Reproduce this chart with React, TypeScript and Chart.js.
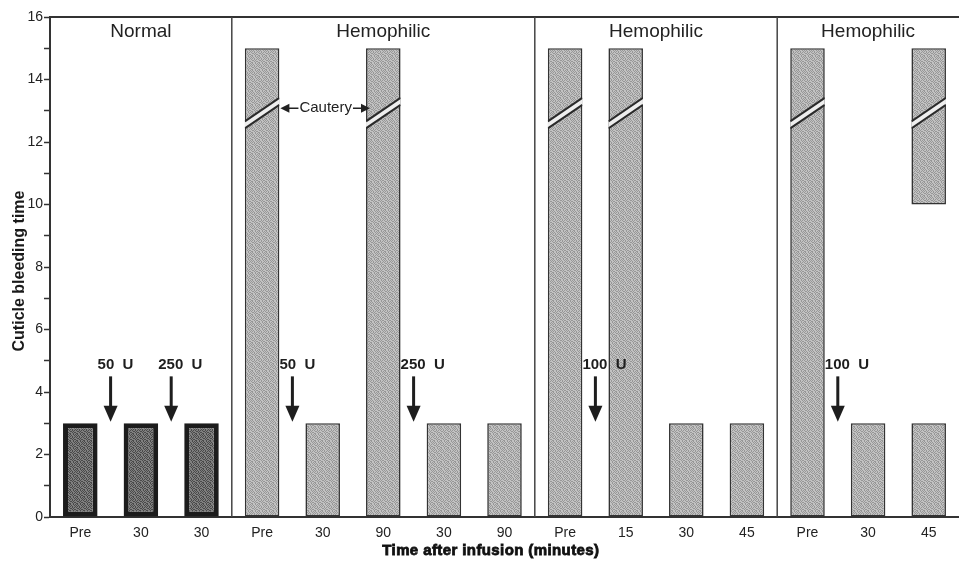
import React, { useEffect, useRef } from 'react';
import { Chart, registerables } from 'chart.js';

Chart.register(...registerables);

// ---- data ----
const categories = ['Pre', '30', '30', 'Pre', '30', '90', '30', '90', 'Pre', '15', '30', '45', 'Pre', '30', '45'];
const bleedingTime = [3, 3, 3, 15, 3, 15, 3, 3, 15, 15, 3, 3, 15, 3, 3];
const upperSegment: (number[] | null)[] = [null, null, null, null, null, null, null, null, null, null, null, null, null, null, [10, 15]];
const groupNames = ['Normal', 'Hemophilic', 'Hemophilic', 'Hemophilic'];
const groupSizes = [3, 5, 4, 3];
const normalCount = 3;
const doseLabels = ['50  U', '250  U', '50  U', '250  U', '100  U', '100  U'];
const doseAfterIndex = [0, 1, 3, 5, 8, 12];
const cauteredValue = 15;
const cauteryLabel = 'Cautery';
const cauteryLabelBars = [3, 5];
const yTitle = 'Cuticle bleeding time';
const xTitle = 'Time after infusion (minutes)';

const FAMILY = '"Liberation Sans", Arial, Helvetica, sans-serif';

// fixed stipple texture mask (7x7)
const STIPPLE = [
  '1001010',
  '0100101',
  '1010010',
  '0010101',
  '1101000',
  '0010110',
  '1001001',
];

function makePattern(a: string, b: string): CanvasPattern | string {
  const n = STIPPLE.length;
  const c = document.createElement('canvas');
  c.width = n;
  c.height = n;
  const g = c.getContext('2d');
  if (!g) return a;
  g.fillStyle = a;
  g.fillRect(0, 0, n, n);
  g.fillStyle = b;
  STIPPLE.forEach((row, py) => {
    for (let px = 0; px < row.length; px++) if (row[px] === '1') g.fillRect(px, py, 1, 1);
  });
  const p = g.createPattern(c, 'repeat');
  return p || a;
}

const overlay = {
  id: 'overlay',
  afterDatasetsDraw(chart: any) {
    const { ctx, chartArea: ca, scales } = chart;
    const x = scales.x;
    const y = scales.y;
    const step = x.getPixelForValue(1) - x.getPixelForValue(0);
    ctx.save();

    // top frame line
    ctx.strokeStyle = '#333';
    ctx.lineWidth = 2;
    ctx.beginPath();
    ctx.moveTo(ca.left, ca.top);
    ctx.lineTo(ca.right, ca.top);
    ctx.stroke();

    // group dividers and titles
    let idx = 0;
    groupSizes.forEach((n, g) => {
      const sx = x.getPixelForValue(idx) - step / 2;
      const ex = x.getPixelForValue(idx + n - 1) + step / 2;
      ctx.fillStyle = '#222';
      ctx.font = `19px ${FAMILY}`;
      ctx.textAlign = 'center';
      ctx.textBaseline = 'middle';
      ctx.fillText(groupNames[g], (sx + Math.min(ex, ca.right)) / 2, ca.top + 15);
      if (g > 0) {
        ctx.strokeStyle = '#444';
        ctx.lineWidth = 1.5;
        ctx.beginPath();
        ctx.moveTo(sx, ca.top);
        ctx.lineTo(sx, ca.bottom);
        ctx.stroke();
      }
      idx += n;
    });

    // cautery bands
    chart.data.datasets.forEach((ds: any, di: number) => {
      const meta = chart.getDatasetMeta(di);
      meta.data.forEach((bar: any, i: number) => {
        const raw = ds.data[i];
        if (raw === null || raw === undefined) return;
        const top = Array.isArray(raw) ? raw[1] : raw;
        if (top !== cauteredValue) return;
        const props = bar.getProps(['x', 'width'], true);
        const left = props.x - props.width / 2;
        const right = props.x + props.width / 2;
        const yl = y.getPixelForValue(12.55);
        const yr = y.getPixelForValue(13.3);
        ctx.save();
        ctx.beginPath();
        ctx.rect(left, y.getPixelForValue(15), right - left, y.getPixelForValue(11) - y.getPixelForValue(15));
        ctx.clip();
        ctx.fillStyle = '#eeeeee';
        ctx.beginPath();
        ctx.moveTo(left, yl - 3.5);
        ctx.lineTo(right, yr - 3.5);
        ctx.lineTo(right, yr + 3.5);
        ctx.lineTo(left, yl + 3.5);
        ctx.closePath();
        ctx.fill();
        ctx.strokeStyle = '#2a2a2a';
        ctx.lineWidth = 2;
        [-3.5, 3.5].forEach((o) => {
          ctx.beginPath();
          ctx.moveTo(left, yl + o);
          ctx.lineTo(right, yr + o);
          ctx.stroke();
        });
        ctx.restore();
      });
    });

    // cautery label with arrows
    const meta0 = chart.getDatasetMeta(0);
    const b1 = meta0.data[cauteryLabelBars[0]].getProps(['x', 'width'], true);
    const b2 = meta0.data[cauteryLabelBars[1]].getProps(['x', 'width'], true);
    const r1 = b1.x + b1.width / 2;
    const l2 = b2.x - b2.width / 2;
    const cy = y.getPixelForValue(13.08);
    ctx.font = `15px ${FAMILY}`;
    ctx.fillStyle = '#222';
    ctx.textAlign = 'center';
    ctx.textBaseline = 'middle';
    const tcx = (r1 + l2) / 2 + 3;
    ctx.fillText(cauteryLabel, tcx, cy);
    const tw = ctx.measureText(cauteryLabel).width;
    const drawHArrow = (from: number, to: number) => {
      const dir = Math.sign(to - from);
      ctx.strokeStyle = '#222';
      ctx.lineWidth = 1.5;
      ctx.beginPath();
      ctx.moveTo(from, cy);
      ctx.lineTo(to - dir * 7, cy);
      ctx.stroke();
      ctx.beginPath();
      ctx.moveTo(to, cy);
      ctx.lineTo(to - dir * 9, cy - 4.5);
      ctx.lineTo(to - dir * 9, cy + 4.5);
      ctx.closePath();
      ctx.fill();
    };
    drawHArrow(tcx - tw / 2 - 1, r1 + 1);
    drawHArrow(tcx + tw / 2 + 1, l2 + 4);

    // dose arrows
    doseLabels.forEach((lab, k) => {
      const a = doseAfterIndex[k];
      const ax = (x.getPixelForValue(a) + x.getPixelForValue(a + 1)) / 2;
      const tip = y.getPixelForValue(3.05);
      const shaftTop = y.getPixelForValue(4.5);
      ctx.fillStyle = '#1e1e1e';
      ctx.font = `bold 15px ${FAMILY}`;
      ctx.textAlign = 'left';
      ctx.textBaseline = 'middle';
      ctx.fillText(lab, ax - 13, y.getPixelForValue(4.87));
      ctx.fillRect(ax - 1.5, shaftTop, 3, tip - 15 - shaftTop);
      ctx.beginPath();
      ctx.moveTo(ax - 7, tip - 16);
      ctx.lineTo(ax + 7, tip - 16);
      ctx.lineTo(ax, tip);
      ctx.closePath();
      ctx.fill();
    });

    // axis titles
    ctx.fillStyle = '#111';
    ctx.strokeStyle = '#111';
    ctx.lineWidth = 0.8;
    ctx.font = `bold 15px ${FAMILY}`;
    try {
      (ctx as any).letterSpacing = '0.4px';
    } catch (e) {
      /* ignore */
    }
    ctx.textAlign = 'center';
    ctx.textBaseline = 'middle';
    const xtx = ca.left + (ca.right - ca.left) * 0.485;
    ctx.fillText(xTitle, xtx, 551);
    ctx.strokeText(xTitle, xtx, 551);
    try {
      (ctx as any).letterSpacing = '0px';
    } catch (e) {
      /* ignore */
    }

    ctx.save();
    ctx.translate(20, (ca.top + ca.bottom) / 2 + 4);
    ctx.rotate(-Math.PI / 2);
    ctx.font = `bold 16px ${FAMILY}`;
    ctx.fillStyle = '#1a1a1a';
    ctx.fillText(yTitle, 0, 0);
    ctx.restore();

    ctx.restore();
  },
};

export default function App() {
  const ref = useRef<HTMLCanvasElement | null>(null);
  useEffect(() => {
    if (!ref.current) return;
    const light = makePattern('#c2c2c2', '#979797');
    const dark = makePattern('#808080', '#4a4a4a');
    const fills = categories.map((_, i) => (i < normalCount ? dark : light));
    const borders = categories.map((_, i) => (i < normalCount ? '#1c1c1c' : '#333'));
    const bw = categories.map((_, i) => (i < normalCount ? 5 : 1.6));
    const chart = new Chart(ref.current, {
      type: 'bar',
      data: {
        labels: categories,
        datasets: [
          {
            data: bleedingTime as any,
            backgroundColor: fills as any,
            borderColor: borders,
            borderWidth: bw,
            borderSkipped: false,
            grouped: false,
            barPercentage: 0.57,
            categoryPercentage: 1,
          } as any,
          {
            data: upperSegment as any,
            backgroundColor: light as any,
            borderColor: '#333',
            borderWidth: 1.6,
            borderSkipped: false,
            grouped: false,
            barPercentage: 0.57,
            categoryPercentage: 1,
          } as any,
        ],
      },
      options: {
        animation: false,
        responsive: false,
        maintainAspectRatio: false,
        layout: { padding: { top: 17, right: 0, left: 0, bottom: 0 } },
        plugins: { legend: { display: false }, tooltip: { enabled: false }, title: { display: false } },
        scales: {
          x: {
            grid: { display: true, drawOnChartArea: false, drawTicks: false },
            border: { display: true, color: '#333', width: 2 },
            ticks: { color: '#222', font: { size: 14, family: FAMILY }, padding: 8, maxRotation: 0, autoSkip: false },
            afterFit: (s: any) => {
              s.height = 46;
            },
          },
          y: {
            min: 0,
            max: 16,
            ticks: {
              stepSize: 1,
              autoSkip: false,
              color: '#222',
              font: { size: 14, family: FAMILY },
              padding: 1,
              callback: (v: any) => (Number(v) % 2 === 0 ? String(v) : ''),
            },
            grid: { drawOnChartArea: false, drawTicks: true, tickLength: 6, tickColor: '#333', tickWidth: 1.5 },
            border: { display: true, color: '#333', width: 2 },
            afterFit: (s: any) => {
              s.width = 50;
            },
          },
        },
      } as any,
      plugins: [overlay],
    });
    return () => chart.destroy();
  }, []);
  return (
    <div style={{ position: 'absolute', left: 0, top: 0, width: 959, height: 563, background: '#fff' }}>
      <canvas ref={ref} width={959} height={563} style={{ display: 'block' }} />
    </div>
  );
}
